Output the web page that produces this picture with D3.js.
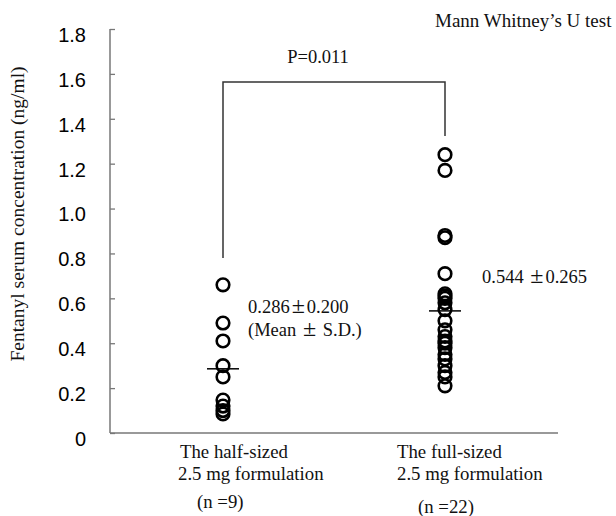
<!DOCTYPE html>
<html>
<head>
<meta charset="utf-8">
<script src="https://cdn.jsdelivr.net/npm/d3@7"></script>
<style>
  body { margin: 0; background: #fff; }
  .serif { font-family: "Liberation Serif", "DejaVu Serif", serif; fill: #111; }
  .tick text { font-family: "Liberation Sans", Arial, sans-serif; font-size: 20px; fill: #000; }
</style>
</head>
<body>
<div id="chart"></div>
<script>
'use strict';

// groups shown on the x axis
var groups = ['half', 'full'];
var groupLabels = [
    ['The half-sized', '2.5 mg formulation', '(n =9)'],
    ['The full-sized', '2.5 mg formulation', '(n =22)']
];

// serum concentrations (ng/ml)
var halfValues = [0.66, 0.49, 0.41, 0.30, 0.25, 0.147, 0.12, 0.10, 0.085];
var fullValues = [1.24, 1.17, 0.88, 0.87, 0.71,
    0.62, 0.61, 0.60, 0.58, 0.55, 0.50, 0.46, 0.43, 0.41,
    0.40, 0.38, 0.35, 0.33, 0.30, 0.27, 0.25, 0.21];

var means = [0.286, 0.544];
var sds = [0.200, 0.265];
var yTicks = [0, 0.2, 0.4, 0.6, 0.8, 1.0, 1.2, 1.4, 1.6, 1.8];
var pValue = '0.011';

var width = 616, height = 516;

var svg = d3.select('#chart').append('svg')
    .attr('width', width)
    .attr('height', height);

var y = d3.scaleLinear().domain([0, 1.8]).range([433, 29]);
var x = d3.scalePoint().domain(groups).range([223, 445]);

// y axis (ticks point inward)
var yAxis = svg.append('g')
    .attr('transform', 'translate(110,0)')
    .call(d3.axisRight(y).tickValues(yTicks).tickSize(5)
        .tickFormat(function (d) { return d === 0 ? '0' : d3.format('.1f')(d); }));
yAxis.select('.domain').remove();
yAxis.selectAll('.tick line').attr('stroke', '#777').attr('stroke-width', 1.3);
yAxis.selectAll('.tick text')
    .attr('text-anchor', 'end')
    .attr('x', -24)
    .attr('dy', '0.32em')
    .attr('transform', 'translate(0,6)');

svg.append('line')
    .attr('x1', 110).attr('x2', 110).attr('y1', y(1.8)).attr('y2', y(0))
    .attr('stroke', '#777').attr('stroke-width', 1.5);
svg.append('line')
    .attr('x1', 110).attr('x2', 558).attr('y1', y(0)).attr('y2', y(0))
    .attr('stroke', '#777').attr('stroke-width', 1.5);

svg.append('text')
    .attr('class', 'serif')
    .attr('transform', 'translate(24,' + 214 + ') rotate(-90)')
    .attr('text-anchor', 'middle')
    .style('font-size', '19.5px')
    .text('Fentanyl serum concentration (ng/ml)');

// significance bracket
var bracketY = 82;
svg.append('path')
    .attr('d', 'M' + x('half') + ',258 V' + bracketY + ' H' + x('full') + ' V136')
    .attr('fill', 'none')
    .attr('stroke', '#333')
    .attr('stroke-width', 1.5);

svg.append('text')
    .attr('class', 'serif')
    .attr('x', 318).attr('y', 63)
    .attr('text-anchor', 'middle')
    .style('font-size', '18.5px')
    .text('P=' + pValue);

svg.append('text')
    .attr('class', 'serif')
    .attr('x', 435).attr('y', 27)
    .style('font-size', '19px')
    .text('Mann Whitney\u2019s U test');

// data points
var series = [halfValues, fullValues];
series.forEach(function (vals, i) {
    svg.append('g').selectAll('circle')
        .data(vals)
        .enter().append('circle')
        .attr('cx', x(groups[i]))
        .attr('cy', function (d) { return y(d); })
        .attr('r', 6.3)
        .attr('fill', 'none')
        .attr('stroke', '#000')
        .attr('stroke-width', 2.6);

    svg.append('line')
        .attr('x1', x(groups[i]) - 16).attr('x2', x(groups[i]) + 16)
        .attr('y1', y(means[i])).attr('y2', y(means[i]))
        .attr('stroke', '#000').attr('stroke-width', 1.5);
});

// mean +- sd annotations, with a wide plus-minus sign
function pmText(xp, yp, before, after) {
    var t = svg.append('text').attr('class', 'serif')
        .attr('x', xp).attr('y', yp).style('font-size', '18.5px');
    t.append('tspan').text(before);
    t.append('tspan').attr('dx', 2).style('font-size', '24px').text('\u00b1');
    t.append('tspan').attr('dx', 2).text(after);
}
pmText(248, 313, d3.format('.3f')(means[0]), d3.format('.3f')(sds[0]));
pmText(248, 336, '(Mean ', ' S.D.)');
pmText(482, 283, d3.format('.3f')(means[1]) + ' ', d3.format('.3f')(sds[1]));

// category labels
var labelX = [[180, 178, 197], [397, 397, 418]];
var labelY = [[458, 480, 508], [458, 480, 513]];
groupLabels.forEach(function (lines, i) {
    lines.forEach(function (t, j) {
        svg.append('text').attr('class', 'serif')
            .attr('x', labelX[i][j]).attr('y', labelY[i][j])
            .style('font-size', '18.8px')
            .text(t);
    });
});
</script>
</body>
</html>
